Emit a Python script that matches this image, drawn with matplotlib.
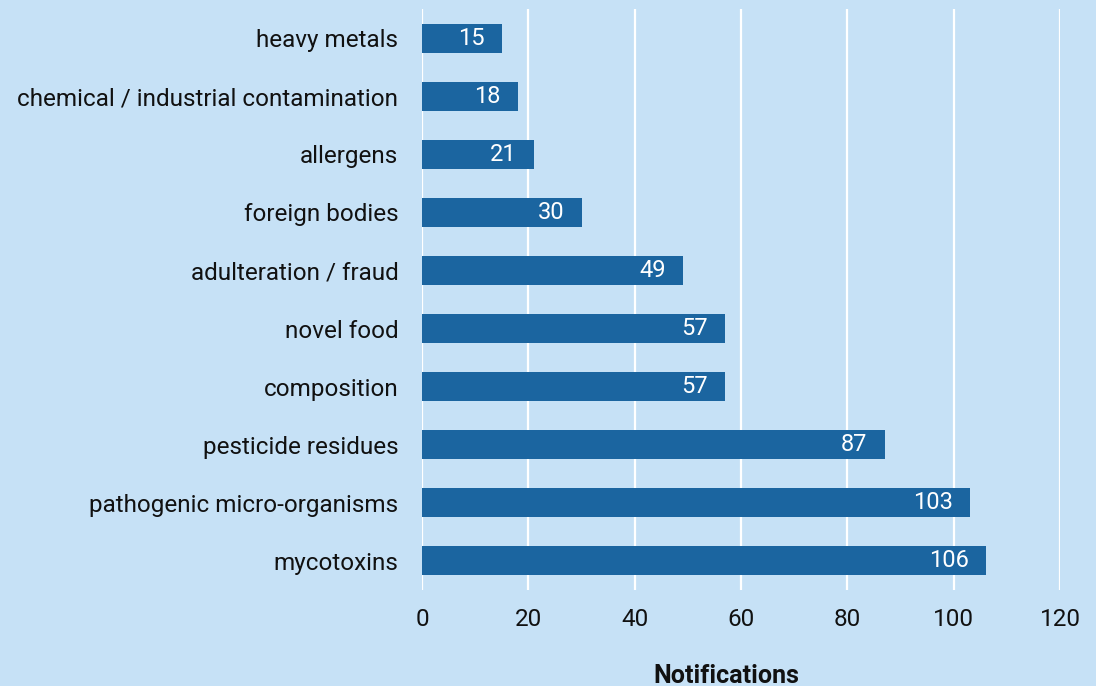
import matplotlib
matplotlib.use("Agg")
import matplotlib.pyplot as plt

categories = [
    "heavy metals",
    "chemical / industrial contamination",
    "allergens",
    "foreign bodies",
    "adulteration / fraud",
    "novel food",
    "composition",
    "pesticide residues",
    "pathogenic micro-organisms",
    "mycotoxins",
]
notifications = [15, 18, 21, 30, 49, 57, 57, 87, 103, 106]
x_ticks = [0, 20, 40, 60, 80, 100, 120]

BG = "#c6e1f6"
BAR = "#1b65a0"

plt.rcParams["font.family"] = ["Roboto", "DejaVu Sans"]

fig = plt.figure(figsize=(10.96, 6.86), dpi=100, facecolor=BG)
ax = fig.add_axes([422 / 1096, 1 - 590 / 686, 638 / 1096, 581 / 686])
ax.set_facecolor(BG)

pos = list(range(len(categories)))
ax.barh(pos, notifications, height=0.5, color=BAR, zorder=3)
for y, v in zip(pos, notifications):
    ax.annotate(str(v), (v, y), xytext=(-17, 0), textcoords="offset pixels",
                ha="right", va="center", color="white", fontsize=17, zorder=4)

ax.set_xlim(0, 120)
ax.set_ylim(len(categories) - 0.5, -0.5)
ax.set_xticks(x_ticks)
ax.set_yticks(pos)
ax.set_yticklabels(categories)
ax.tick_params(axis="both", length=0, labelsize=17.5, colors="#111111")
ax.tick_params(axis="x", pad=13)
ax.tick_params(axis="y", pad=17)
ax.grid(axis="x", color="white", linewidth=1.6, zorder=1)
ax.grid(axis="y", visible=False)
for s in ax.spines.values():
    s.set_visible(False)

fig.text(726 / 1096, 1 - 676 / 686, "Notifications", ha="center", va="center",
         fontsize=18, fontweight="bold", color="#111111")

fig.savefig("out.png", dpi=100, facecolor=BG)
